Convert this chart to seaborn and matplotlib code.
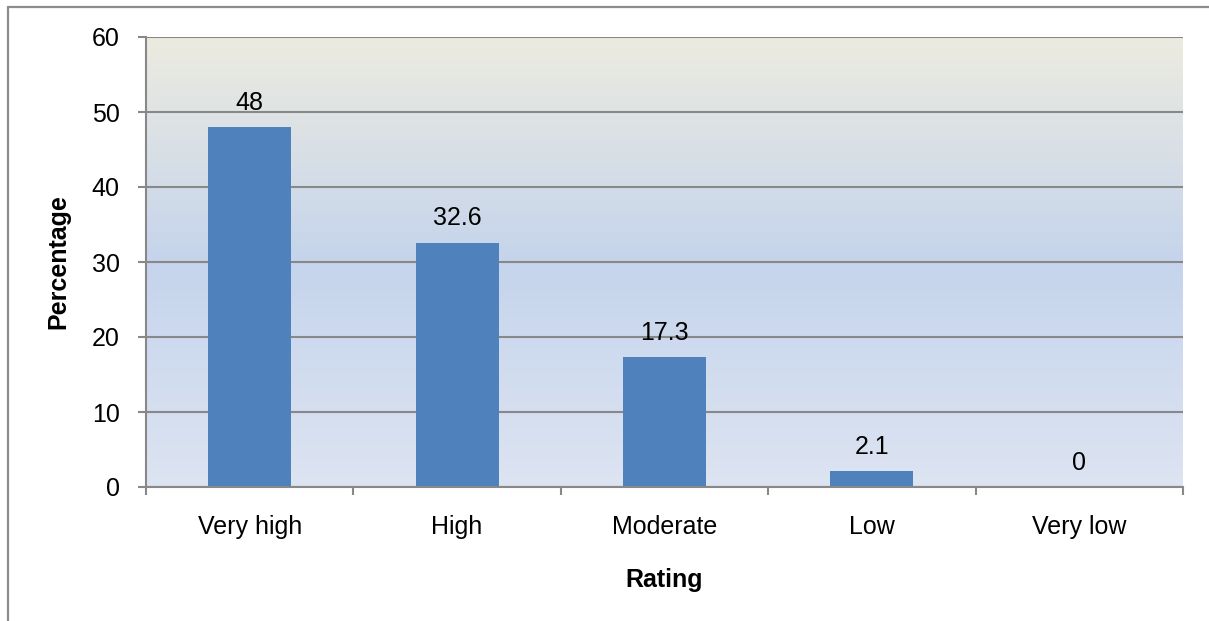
import numpy as np
import pandas as pd
import matplotlib
matplotlib.use("Agg")
import matplotlib.pyplot as plt
from matplotlib.colors import LinearSegmentedColormap
from matplotlib.lines import Line2D
import seaborn as sns

# Survey ratings and their share of respondents (%)
ratings = ["Very high", "High", "Moderate", "Low", "Very low"]
percentages = [48, 32.6, 17.3, 2.1, 0]
y_ticks = [0, 10, 20, 30, 40, 50, 60]

sns.set_theme(style="white")
plt.rcParams["font.family"] = ["Liberation Sans", "DejaVu Sans"]
plt.rcParams["text.color"] = "black"
plt.rcParams["axes.labelcolor"] = "black"

df = pd.DataFrame({"Rating": ratings, "Percentage": percentages})

fig = plt.figure(figsize=(12.09, 6.21), dpi=100)
ax = fig.add_axes([146 / 1209, 1 - 487 / 621, (1183 - 146) / 1209, (487 - 37) / 621])

# Plot-area background: vertical gradient from warm beige to soft blue
grad = LinearSegmentedColormap.from_list(
    "bg",
    [(0.0, (236 / 255, 235 / 255, 224 / 255)),
     (0.5, (197 / 255, 212 / 255, 236 / 255)),
     (1.0, (221 / 255, 228 / 255, 242 / 255))],
)
ax.imshow(np.linspace(0, 1, 256).reshape(-1, 1), aspect="auto", cmap=grad,
          extent=(0, 1, 0, 1), transform=ax.transAxes, zorder=0)

sns.barplot(data=df, x="Rating", y="Percentage", order=ratings, color="#4F81BD",
            saturation=1, width=0.4, linewidth=0, ax=ax, zorder=3)

ax.set_xlim(-0.5, len(ratings) - 0.5)
ax.set_ylim(0, 60)
ax.set_yticks(y_ticks)
ax.yaxis.grid(True, color="#888888", linewidth=1.5, zorder=1)
ax.set_axisbelow(True)

# Value labels above each bar
for cont in ax.containers:
    ax.bar_label(cont, labels=[f"{v:g}" for v in percentages], padding=9,
                 fontsize=18, color="black", zorder=5)

# Spines: left and bottom only
for side in ["top", "right"]:
    ax.spines[side].set_visible(False)
for side in ["left", "bottom"]:
    ax.spines[side].set_color("#888888")
    ax.spines[side].set_linewidth(1.5)
    ax.spines[side].set_zorder(4)

# Ticks: y ticks outward, x ticks at category boundaries
ax.tick_params(axis="y", which="major", direction="out", length=6, width=1.5,
               color="#888888", labelcolor="black", pad=13, labelsize=18, left=True)
ax.set_xticks(np.arange(-0.5, len(ratings)), minor=True)
ax.tick_params(axis="x", which="minor", direction="out", length=6, width=1.5,
               color="#888888", bottom=True)
ax.tick_params(axis="x", which="major", length=0, pad=20, labelsize=18,
               labelcolor="black", bottom=True)

ax.set_xlabel("Rating", fontsize=18, fontweight="bold", labelpad=21)
ax.set_ylabel("Percentage", fontsize=18, fontweight="bold", labelpad=15)

# Outer chart frame (top and left edges)
fig.add_artist(Line2D([8 / 1209, 1.0], [1 - 7 / 621, 1 - 7 / 621],
                      transform=fig.transFigure, color="#8c8c8c", linewidth=1.6))
fig.add_artist(Line2D([8 / 1209, 8 / 1209], [0.0, 1 - 7 / 621],
                      transform=fig.transFigure, color="#8c8c8c", linewidth=1.6))

fig.savefig("out.png", dpi=100, facecolor="white")
